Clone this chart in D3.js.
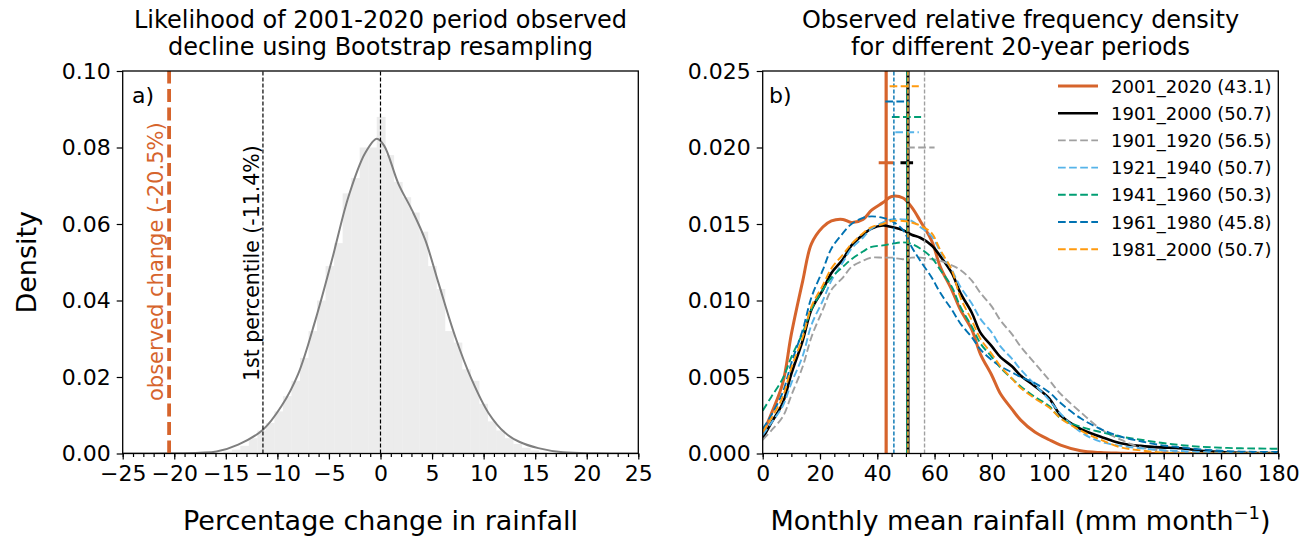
<!DOCTYPE html>
<html>
<head>
<meta charset="utf-8">
<script src="https://cdn.jsdelivr.net/npm/d3@7"></script>
<style>
  body { margin: 0; background: #fff; }
  svg text { font-family: "DejaVu Sans", sans-serif; }
</style>
</head>
<body>
<svg id="chart" width="1316" height="536"></svg>
<script>
// ---------- panel a) data : bootstrap distribution of % change ----------
const histStart = -15.25;      // left edge of first bin
const histWidth = 0.827;       // bin width
const histDensity = [0.0005, 0.001, 0.002, 0.004, 0.006, 0.008, 0.011, 0.015, 0.019, 0.025,
                     0.032, 0.040, 0.049, 0.055, 0.068, 0.072, 0.080, 0.080, 0.088, 0.078,
                     0.071, 0.067, 0.063, 0.058, 0.049, 0.043, 0.032, 0.029, 0.022, 0.019,
                     0.013, 0.0084, 0.006, 0.004, 0.0025, 0.0015, 0.0008, 0.0004, 0.0002];

const kdeX = [-25, -20.4, -17.5, -15.9, -13.8, -11.4, -9.6, -8.0, -6.3, -4.7, -3.1, -1.5, -0.36,
              0.35, 1.74, 3.04, 4.33, 5.62, 7.24, 8.85, 10.47, 12.08, 13.5, 15.3, 17.7, 21, 25];
const kdeY = [0, 0.00005, 0.0002, 0.0005, 0.0023, 0.0062, 0.0124, 0.0207, 0.0350, 0.0507, 0.0672, 0.0785, 0.0823,
              0.0805, 0.0705, 0.0637, 0.0559, 0.0446, 0.0306, 0.0193, 0.0106, 0.0054, 0.0030, 0.0014, 0.0003, 0.00005, 0];

const observedChange = -20.5;
const firstPercentile = -11.4;

// ---------- panel b) data : relative frequency density per period ----------
const rainX = [0, 3, 7, 10, 14, 17, 21, 24, 28, 31, 35, 38, 42, 45, 49, 52, 55, 59, 62, 66,
               69, 73, 76, 80, 83, 87, 90, 95, 100, 104, 111, 118, 125, 132, 139, 146, 153, 160, 167, 180];

const d2001_2020 = [0.0013, 0.0026, 0.0046, 0.0078, 0.0113, 0.0137, 0.0148, 0.0152, 0.0153, 0.0151,
                    0.0153, 0.0159, 0.0164, 0.0168, 0.0167, 0.0161, 0.0152, 0.0139, 0.0122, 0.0107,
                    0.0094, 0.0081, 0.0065, 0.0051, 0.0039, 0.0029, 0.0022, 0.0014, 0.0009, 0.00055,
                    0.00018, 0.00006, 0.00002, 0, 0, 0, 0, 0, 0, 0];
const d1901_2000 = [0.0010, 0.0020, 0.0033, 0.0052, 0.0074, 0.0094, 0.0107, 0.0118, 0.0127, 0.0136,
                    0.0143, 0.0147, 0.0149, 0.0148, 0.0146, 0.0143, 0.0141, 0.0136, 0.0129, 0.0118,
                    0.0105, 0.0092, 0.0079, 0.0070, 0.0063, 0.0057, 0.0051, 0.0044, 0.0036, 0.0025,
                    0.0016, 0.0011, 0.00067, 0.0005, 0.0004, 0.00034, 0.00018, 0.0001, 0.00005, 0.00003];
const d1901_1920 = [0.0009, 0.0015, 0.0024, 0.0038, 0.0057, 0.0076, 0.0094, 0.0107, 0.0115, 0.0122,
                    0.0126, 0.0128, 0.0128, 0.0128, 0.0127, 0.0128, 0.0128, 0.0127, 0.0126, 0.0123,
                    0.0120, 0.0113, 0.0105, 0.0096, 0.0087, 0.0078, 0.0070, 0.0059, 0.0048, 0.0039,
                    0.0027, 0.0016, 0.0009, 0.0004, 0.0002, 0.00008, 0.00003, 0.00001, 0, 0];
const d1921_1940 = [0.0012, 0.0020, 0.0031, 0.0046, 0.0064, 0.0084, 0.0100, 0.0113, 0.0125, 0.0134,
                    0.0141, 0.0147, 0.0151, 0.0153, 0.0153, 0.0152, 0.0148, 0.0142, 0.0132, 0.0120,
                    0.0109, 0.0098, 0.0088, 0.0079, 0.0070, 0.0062, 0.0055, 0.0045, 0.0035, 0.0026,
                    0.0014, 0.00077, 0.0005, 0.00034, 0.00023, 0.00016, 0.0001, 0.00006, 0.00004, 0.00002];
const d1941_1960 = [0.0028, 0.0037, 0.0049, 0.0063, 0.0079, 0.0094, 0.0107, 0.0115, 0.0122, 0.0127,
                    0.0132, 0.0135, 0.0136, 0.0137, 0.0138, 0.0137, 0.0134, 0.0128, 0.0120, 0.0109,
                    0.0096, 0.0083, 0.0072, 0.0063, 0.0056, 0.0049, 0.0044, 0.0037, 0.0031, 0.0023,
                    0.00175, 0.0014, 0.0011, 0.0009, 0.0007, 0.00055, 0.00044, 0.00038, 0.00034, 0.00031];
const d1961_1980 = [0.0016, 0.0025, 0.0040, 0.0059, 0.0081, 0.0102, 0.0120, 0.0134, 0.0144, 0.0150,
                    0.0154, 0.0155, 0.0154, 0.0152, 0.0146, 0.0135, 0.0126, 0.0115, 0.0105, 0.0094,
                    0.0085, 0.0076, 0.0068, 0.0061, 0.0057, 0.0053, 0.0050, 0.0046, 0.0040, 0.0033,
                    0.0023, 0.0016, 0.0011, 0.0008, 0.00055, 0.0004, 0.00027, 0.00018, 0.00012, 0.0001];
const d1981_2000 = [0.0014, 0.0023, 0.0037, 0.0056, 0.0076, 0.0096, 0.0110, 0.0121, 0.0130, 0.0137,
                    0.0144, 0.0148, 0.0150, 0.0152, 0.0152, 0.0151, 0.0149, 0.0144, 0.0133, 0.0120,
                    0.0102, 0.0087, 0.0075, 0.0065, 0.0057, 0.0049, 0.0043, 0.0036, 0.0030, 0.0023,
                    0.0015, 0.0009, 0.0004, 0.0002, 0.00007, 0.00002, 0, 0, 0, 0];

const periodNames = ["2001_2020", "1901_2000", "1901_1920", "1921_1940", "1941_1960", "1961_1980", "1981_2000"];
const periodMeans = [43.1, 50.7, 56.5, 50.7, 50.3, 45.8, 50.7];
// range of the mean (short horizontal bars near the top) and the height they sit at
const rangeLow = [40.5, 48.1, 50.4, 46.3, 45.1, 42.8, 44.3];
const rangeHigh = [45.7, 52.5, 60.0, 54.5, 55.3, 51.3, 54.5];
const rangeLevel = [0.019, 0.019, 0.020, 0.021, 0.022, 0.023, 0.024];
const periodDensity = [d2001_2020, d1901_2000, d1901_1920, d1921_1940, d1941_1960, d1961_1980, d1981_2000];

// styles for each period
const periodColors = ["#d6642c", "#000000", "#a0a0a0", "#56b4e9", "#009e73", "#0072b2", "#ff9a0f"];
const periodWidths = [3, 2.6, 1.9, 1.9, 1.9, 1.9, 1.9];
const periodDash = [null, null, "7.7,3.4", "7.7,3.4", "7.7,3.4", "7.7,3.4", "7.7,3.4"];

const svg = d3.select("#chart");

// shared geometry of the two panels
const plotTop = 71, plotBottom = 453.5;
const panelA = {left: 122.7, right: 638.3};
const panelB = {left: 762.7, right: 1278.3};

// draws the axis frame and ticks of one panel
function drawFrame(g, x, y, majorX, minorX, majorY, fmtX, fmtY) {
    g.append("g")
     .attr("transform", `translate(0,${plotBottom})`)
     .call(d3.axisBottom(x).tickValues(minorX).tickSize(3.5).tickFormat(""))
     .call(a => a.select(".domain").remove());
    let xa = g.append("g")
     .attr("transform", `translate(0,${plotBottom})`)
     .call(d3.axisBottom(x).tickValues(majorX).tickSize(6).tickPadding(6).tickFormat(fmtX));
    xa.select(".domain").remove();
    let ya = g.append("g")
     .attr("transform", `translate(${x.range()[0]},0)`)
     .call(d3.axisLeft(y).tickValues(majorY).tickSize(6).tickPadding(6).tickFormat(fmtY));
    ya.select(".domain").remove();
    g.selectAll(".tick text").attr("font-size", 22).attr("fill", "#000")
     .attr("font-family", "DejaVu Sans");
    g.selectAll(".tick line").attr("stroke", "#000").attr("stroke-width", 1.2);
    g.append("rect")
     .attr("x", x.range()[0]).attr("y", plotTop)
     .attr("width", x.range()[1] - x.range()[0]).attr("height", plotBottom - plotTop)
     .attr("fill", "none").attr("stroke", "#000").attr("stroke-width", 1.3);
}

// ================= panel a) =================
let xA = d3.scaleLinear().domain([-25, 25]).range([panelA.left, panelA.right]);
let yA = d3.scaleLinear().domain([0, 0.1]).range([plotBottom, plotTop]);
let gA = svg.append("g");

gA.append("defs").append("clipPath").attr("id", "clipA")
  .append("rect").attr("x", panelA.left).attr("y", plotTop)
  .attr("width", panelA.right - panelA.left).attr("height", plotBottom - plotTop);

let plotA = gA.append("g").attr("clip-path", "url(#clipA)");

plotA.selectAll("rect.bar")
     .data(histDensity)
     .join("rect")
     .attr("class", "bar")
     .attr("x", (d, i) => xA(histStart + i * histWidth))
     .attr("width", xA(histWidth) - xA(0) + 0.3)
     .attr("y", d => yA(d))
     .attr("height", d => yA(0) - yA(d))
     .attr("fill", "#ececec");

plotA.append("path")
     .datum(kdeX.map((v, i) => [v, kdeY[i]]))
     .attr("d", d3.line().x(d => xA(d[0])).y(d => yA(d[1])).curve(d3.curveCatmullRom))
     .attr("fill", "none").attr("stroke", "#7f7f7f").attr("stroke-width", 2);

// reference lines
plotA.append("line")
     .attr("x1", xA(observedChange)).attr("x2", xA(observedChange))
     .attr("y1", yA(0)).attr("y2", yA(0.1))
     .attr("stroke", "#d6642c").attr("stroke-width", 3.8).attr("stroke-dasharray", "13,5.5");
[firstPercentile, 0].forEach(v => {
    plotA.append("line")
         .attr("x1", xA(v)).attr("x2", xA(v))
         .attr("y1", yA(0)).attr("y2", yA(0.1))
         .attr("stroke", "#000").attr("stroke-width", 1.2).attr("stroke-dasharray", "4,2");
});

drawFrame(gA, xA, yA, d3.range(-25, 26, 5), d3.range(-25, 26, 1), d3.range(0, 0.1001, 0.02),
          d3.format("d"), d3.format(".2f"));

gA.append("text")
  .attr("transform", `translate(${xA(observedChange) - 6},401) rotate(-90)`)
  .attr("font-size", 21).attr("fill", "#d6642c")
  .text(`observed change (${observedChange}%)`);
gA.append("text")
  .attr("transform", `translate(${xA(firstPercentile) - 4},381) rotate(-90)`)
  .attr("font-size", 20.5).attr("fill", "#000")
  .text(`1st percentile (${firstPercentile}%)`);
gA.append("text").attr("x", 132).attr("y", 103).attr("font-size", 22).text("a)");

// titles and axis labels
gA.append("text").attr("x", (panelA.left + panelA.right) / 2).attr("y", 28)
  .attr("text-anchor", "middle").attr("font-size", 24).text("Likelihood of 2001-2020 period observed");
gA.append("text").attr("x", (panelA.left + panelA.right) / 2).attr("y", 55)
  .attr("text-anchor", "middle").attr("font-size", 24).text("decline using Bootstrap resampling");
gA.append("text").attr("x", (panelA.left + panelA.right) / 2).attr("y", 530)
  .attr("text-anchor", "middle").attr("font-size", 27).text("Percentage change in rainfall");
gA.append("text").attr("transform", `translate(36,${(plotTop + plotBottom) / 2}) rotate(-90)`)
  .attr("text-anchor", "middle").attr("font-size", 27).text("Density");

// ================= panel b) =================
let xB = d3.scaleLinear().domain([0, 180]).range([panelB.left, panelB.right]);
let yB = d3.scaleLinear().domain([0, 0.025]).range([plotBottom, plotTop]);
let gB = svg.append("g");

gB.append("defs").append("clipPath").attr("id", "clipB")
  .append("rect").attr("x", panelB.left).attr("y", plotTop)
  .attr("width", panelB.right - panelB.left).attr("height", plotBottom - plotTop);

let plotB = gB.append("g").attr("clip-path", "url(#clipB)");

let lineB = d3.line().x(d => xB(d[0])).y(d => yB(d[1])).curve(d3.curveCatmullRom);

periodNames.forEach((name, i) => {
    let s = plotB.append("g").attr("class", "period");
    s.append("path")
     .datum(rainX.map((v, j) => [v, periodDensity[i][j]]))
     .attr("d", lineB)
     .attr("fill", "none")
     .attr("stroke", periodColors[i])
     .attr("stroke-width", periodWidths[i])
     .attr("stroke-dasharray", periodDash[i]);
    // vertical line at the period mean
    s.append("line")
     .attr("x1", xB(periodMeans[i])).attr("x2", xB(periodMeans[i]))
     .attr("y1", yB(0)).attr("y2", yB(0.025))
     .attr("stroke", periodColors[i])
     .attr("stroke-width", i < 2 ? 3.2 : 1.4)
     .attr("stroke-dasharray", i < 2 ? null : "4,2");
    // range of the mean
    s.append("line")
     .attr("x1", xB(rangeLow[i])).attr("x2", xB(rangeHigh[i]))
     .attr("y1", yB(rangeLevel[i])).attr("y2", yB(rangeLevel[i]))
     .attr("stroke", periodColors[i])
     .attr("stroke-width", i < 2 ? 3 : 2)
     .attr("stroke-dasharray", periodDash[i]);
});

drawFrame(gB, xB, yB, d3.range(0, 181, 20), d3.range(0, 181, 5), d3.range(0, 0.02501, 0.005),
          d3.format("d"), d3.format(".3f"));

gB.append("text").attr("x", 769).attr("y", 103).attr("font-size", 22).text("b)");

// legend
let legend = gB.append("g").attr("transform", "translate(1058,86)");
periodNames.forEach((name, i) => {
    let row = legend.append("g").attr("transform", `translate(0,${i * 27.2})`);
    row.append("line")
       .attr("x1", 0).attr("x2", 40).attr("y1", 0).attr("y2", 0)
       .attr("stroke", periodColors[i])
       .attr("stroke-width", periodWidths[i])
       .attr("stroke-dasharray", periodDash[i]);
    row.append("text").attr("x", 53).attr("y", 6.5).attr("font-size", 18)
       .text(`${name} (${periodMeans[i].toFixed(1)})`);
});

gB.append("text").attr("x", (panelB.left + panelB.right) / 2).attr("y", 28)
  .attr("text-anchor", "middle").attr("font-size", 24).text("Observed relative frequency density");
gB.append("text").attr("x", (panelB.left + panelB.right) / 2).attr("y", 55)
  .attr("text-anchor", "middle").attr("font-size", 24).text("for different 20-year periods");
let xlab = gB.append("text").attr("x", (panelB.left + panelB.right) / 2).attr("y", 530)
  .attr("text-anchor", "middle").attr("font-size", 27);
xlab.append("tspan").text("Monthly mean rainfall (mm month");
xlab.append("tspan").attr("font-size", 18).attr("dy", -11).text("−1");
xlab.append("tspan").attr("dy", 11).text(")");
</script>
</body>
</html>
